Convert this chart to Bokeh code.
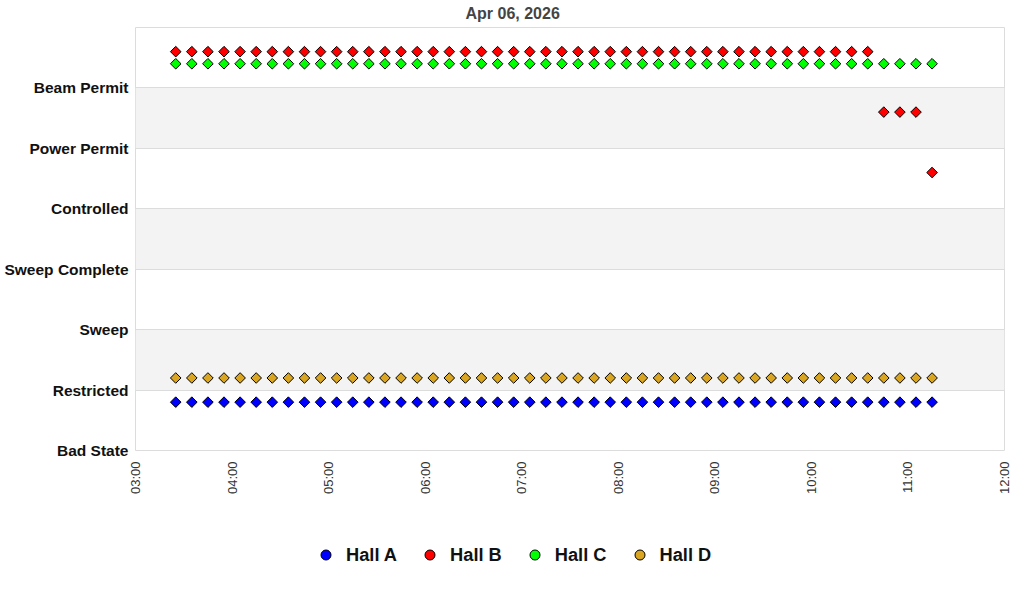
import math
import pandas as pd
from bokeh.plotting import figure
from bokeh.layouts import column
from bokeh.models import (ColumnDataSource, FixedTicker, DatetimeTickFormatter, Range1d,
                          Legend, LegendItem)
from bokeh.embed import file_html
from bokeh.resources import INLINE

# ---------------- data ----------------
chart_title = "Apr 06, 2026"
day = "2026-04-06"

states = ["Bad State", "Restricted", "Sweep", "Sweep Complete",
          "Controlled", "Power Permit", "Beam Permit"]

x_ticks = ["03:00", "04:00", "05:00", "06:00", "07:00",
           "08:00", "09:00", "10:00", "11:00", "12:00"]

times = ["03:25", "03:35", "03:45", "03:55",
         "04:05", "04:15", "04:25", "04:35", "04:45", "04:55",
         "05:05", "05:15", "05:25", "05:35", "05:45", "05:55",
         "06:05", "06:15", "06:25", "06:35", "06:45", "06:55",
         "07:05", "07:15", "07:25", "07:35", "07:45", "07:55",
         "08:05", "08:15", "08:25", "08:35", "08:45", "08:55",
         "09:05", "09:15", "09:25", "09:35", "09:45", "09:55",
         "10:05", "10:15", "10:25", "10:35", "10:45", "10:55",
         "11:05", "11:15"]

hall_a = ["Restricted"] * 48
hall_b = ["Beam Permit"] * 44 + ["Power Permit"] * 3 + ["Controlled"]
hall_c = ["Beam Permit"] * 48
hall_d = ["Restricted"] * 48

hall_names = ["Hall A", "Hall B", "Hall C", "Hall D"]
hall_states = [hall_a, hall_b, hall_c, hall_d]
hall_colors = ["#0000ff", "#ff0000", "#00ff00", "#daa520"]
hall_offsets = [-0.2, 0.6, 0.4, 0.2]


def to_ms(hhmm):
    return pd.Timestamp(f"{day} {hhmm}").timestamp() * 1000.0


# ---------------- main figure ----------------
FONT = "Liberation Sans"

p = figure(width=1016, height=500, output_backend="svg", toolbar_location=None,
           x_range=Range1d(to_ms(x_ticks[0]), to_ms(x_ticks[-1])),
           y_range=Range1d(0, len(states)),
           x_axis_type="datetime", title=chart_title,
           min_border_left=135, min_border_right=12,
           min_border_top=27, min_border_bottom=50)

p.background_fill_color = "white"
p.border_fill_color = "white"
p.outline_line_color = "#dcdcdc"
p.outline_line_width = 1

p.title.align = "left"
p.title.offset = 330
p.title.vertical_align = "top"
p.title.text_font = FONT
p.title.text_font_size = "16px"
p.title.text_font_style = "bold"
p.title.text_color = "#444444"
p.title.standoff = 8

# grid / bands
p.xgrid.grid_line_color = None
p.ygrid.grid_line_color = "#dcdcdc"
p.ygrid.grid_line_width = 1
p.ygrid.band_fill_color = "#f3f3f3"
p.ygrid.band_fill_alpha = 1.0

# y axis
p.yaxis.ticker = FixedTicker(ticks=list(range(len(states))))
p.yaxis.major_label_overrides = {i: s for i, s in enumerate(states)}
p.yaxis.major_label_text_font = FONT
p.yaxis.major_label_text_font_size = "15.5px"
p.yaxis.major_label_text_font_style = "bold"
p.yaxis.major_label_text_color = "#111111"
p.yaxis.major_label_standoff = 7
p.yaxis.axis_line_color = None
p.yaxis.major_tick_line_color = None
p.yaxis.minor_tick_line_color = None
p.yaxis.major_tick_out = 0
p.yaxis.major_tick_in = 0
p.yaxis.minor_tick_out = 0

# x axis
p.xaxis.ticker = FixedTicker(ticks=[to_ms(t) for t in x_ticks])
fmt = "%H:%M"
p.xaxis.formatter = DatetimeTickFormatter(hours=fmt, hourmin=fmt, minutes=fmt,
                                          minsec=fmt, days=fmt, seconds=fmt)
p.xaxis.major_label_orientation = math.pi / 2
p.xaxis.major_label_text_font = FONT
p.xaxis.major_label_text_font_size = "13px"
p.xaxis.major_label_text_color = "#333333"
p.xaxis.major_label_standoff = 11
p.xaxis.axis_line_color = None
p.xaxis.major_tick_line_color = None
p.xaxis.minor_tick_line_color = None
p.xaxis.major_tick_out = 0
p.xaxis.major_tick_in = 0
p.xaxis.minor_tick_out = 0

# ---------------- legend figure ----------------
q = figure(width=1016, height=92, output_backend="svg", toolbar_location=None,
           x_range=Range1d(0, 1), y_range=Range1d(0, 1),
           min_border_left=0, min_border_right=0, min_border_top=0, min_border_bottom=0)
q.axis.visible = False
q.grid.visible = False
q.outline_line_color = None
q.background_fill_color = "white"
q.border_fill_color = "white"

# points
items = []
for name, st, color, off in zip(hall_names, hall_states, hall_colors, hall_offsets):
    src = ColumnDataSource(dict(
        x=pd.to_datetime([f"{day} {t}" for t in times]),
        y=[states.index(s) + off for s in st],
    ))
    p.scatter(x="x", y="y", source=src, marker="square", angle=math.pi / 4,
              size=7.5, fill_color=color, line_color="black", line_width=1)
    # legend-only renderer in the legend strip (its data lie outside that strip's ranges)
    leg = q.scatter(x="x", y="y", source=src, marker="circle", size=10,
                    fill_color=color, line_color="black", line_width=1)
    items.append(LegendItem(label=name, renderers=[leg]))

legend = Legend(items=items, orientation="horizontal", location=(178, 25),
                padding=0, margin=0, spacing=20, glyph_width=25, glyph_height=25,
                label_standoff=8, label_height=25,
                label_text_font=FONT, label_text_font_size="18.25px",
                label_text_font_style="bold", label_text_color="#111111",
                border_line_color=None, background_fill_alpha=0)
q.add_layout(legend)

layout = column(p, q, spacing=0)
open("out.html", "w").write(file_html(layout, INLINE))
